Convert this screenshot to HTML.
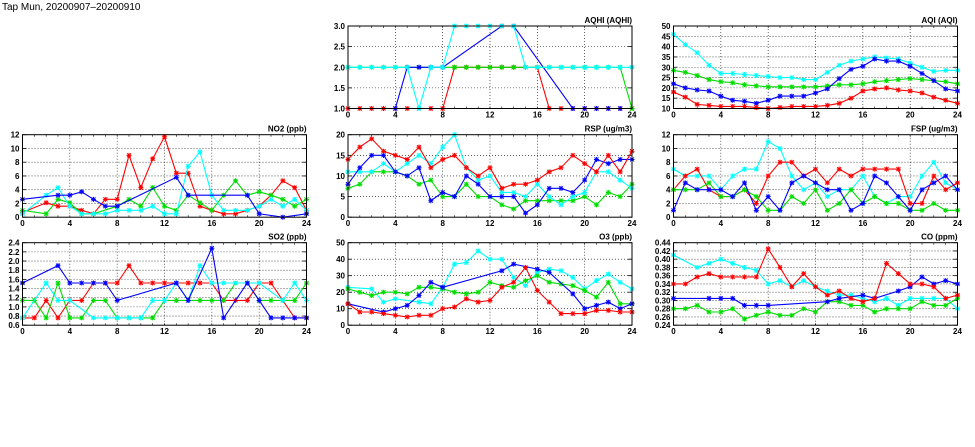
<!DOCTYPE html>
<html><head><meta charset="utf-8"><style>
html,body{margin:0;padding:0;background:#fff;}
svg{display:block;font-family:"Liberation Sans",sans-serif;}
</style></head><body>
<svg id="chart" width="975" height="447" viewBox="0 0 975 447">
<text x="2" y="10" font-size="10">Tap Mun, 20200907–20200910</text>
</svg>
<script>
const hours = [0,1,2,3,4,5,6,7,8,9,10,11,12,13,14,15,16,17,18,19,20,21,22,23,24];
const xTicks = [0,4,8,12,16,20,24];
const seriesNames = ['red','green','cyan','blue'];
const N = null;
// NO2
const no2Red   = [0.7,N,2.1,1.6,1.6,1.0,0.5,2.6,2.6,9.0,4.3,8.5,11.7,6.4,6.4,1.6,1.0,0.5,0.5,1.0,1.6,3.2,5.3,4.3,1.0];
const no2Green = [1.0,N,0.5,2.6,2.1,0.5,0.5,N,1.6,2.6,1.6,4.3,1.6,1.0,3.2,2.1,1.0,3.2,5.3,3.2,3.7,3.2,2.6,1.6,2.6];
const no2Cyan  = [0.5,N,3.2,4.3,1.6,0.5,0.5,0.5,1.0,1.0,1.0,1.6,0.5,0.5,7.4,9.5,3.2,1.0,1.0,1.0,1.6,2.6,1.6,2.6,1.0];
const no2Blue  = [2.6,N,N,3.2,3.2,3.7,2.6,1.6,1.6,N,N,N,N,5.8,3.2,N,N,N,N,3.2,0.5,N,0,N,0.5];
const no2Ticks = [0,2,4,6,8,10,12];
// SO2
const so2Red   = [0.76,0.76,1.14,0.76,1.14,1.14,1.52,1.52,1.52,1.9,1.52,1.52,1.52,1.52,1.52,1.52,1.52,1.14,1.14,1.14,1.52,1.52,1.14,0.76,0.76];
const so2Green = [1.14,1.14,0.76,1.52,0.76,0.76,1.14,1.14,0.76,0.76,0.76,0.76,1.14,1.14,1.14,1.14,1.14,1.14,1.52,1.52,1.14,1.14,1.14,1.14,1.52];
const so2Cyan  = [0.76,N,1.52,1.14,1.14,N,0.76,0.76,0.76,0.76,0.76,1.14,1.14,1.52,1.14,1.9,1.52,1.52,1.52,1.52,1.52,N,1.14,1.52,1.14];
const so2Blue  = [1.52,N,N,1.9,1.52,1.52,1.52,1.52,1.14,N,N,N,N,1.52,1.14,N,2.28,0.76,N,1.52,1.14,0.76,0.76,0.76,0.76];
const so2Ticks = [0.6,0.8,1.0,1.2,1.4,1.6,1.8,2.0,2.2,2.4];
// AQHI
const aqhiRed   = [1,1,1,1,1,1,1,1,1,2,2,2,2,2,2,2,2,1,1,1,1,1,1,1,1];
const aqhiGreen = [2,2,2,2,2,2,2,2,2,2,2,2,2,2,2,2,2,2,2,2,2,2,2,2,1];
const aqhiCyan  = [2,2,2,2,2,2,1,2,2,3,3,3,3,3,3,2,2,2,2,2,2,2,2,2,2];
const aqhiBlue  = [N,N,N,N,1,2,2,2,2,N,N,N,N,3,3,N,N,N,N,1,1,1,1,1,N];
const aqhiTicks = [1.0,1.5,2.0,2.5,3.0];
// AQI
const aqiRed   = [18,15.5,12,11.5,11,11,11,10.5,10,10.5,11,11,11,11.5,12.5,15,18.5,19.5,20,19,18.5,17.5,15.5,14,12.5];
const aqiGreen = [28.5,27.5,26,24,23,22.5,21.5,21,20.5,20.5,20.5,20.5,20.5,21,21.5,21.5,22,23,23.5,24,24.5,24,23.5,23,22];
const aqiCyan  = [46,41,37,31,27,27,26.5,26,25.5,25,25,24,24,27.5,31,33,34,35,34.5,34,32,30,28,28.5,28.5];
const aqiBlue  = [22,20,19,18.5,16,14,13.5,12.5,14,16,16,16,17.5,19.5,24.5,29,30.5,34,33,33,30.5,27,23.5,19.5,18.5];
const aqiTicks = [10,15,20,25,30,35,40,45,50];
// RSP
const rspRed   = [14,17,19,16,15,14,17,12,14,15,12,10,12,7,8,8,9,11,12,15,13,11,15,11,16];
const rspGreen = [7,8,11,11,11,10,8,9,5,5,8,5,5,3,2,4,4,4,4,4,5,3,6,5,8];
const rspCyan  = [11,11,11,13,11,13,15,13,17,20,12,9,10,6,6,5,8,5,3,5,6,11,11,9,7];
const rspBlue  = [8,12,15,15,11,10,12,4,6,5,10,8,5,5,5,1,3,7,7,6,9,14,13,14,14];
const rspTicks = [0,5,10,15,20];
// FSP
const fspRed   = [4,6,7,4,3,3,4,2,6,8,8,6,7,5,7,6,7,7,7,7,2,2,6,4,5];
const fspGreen = [4,4,4,5,3,3,4,3,1,1,3,2,4,1,2,4,2,3,2,2,1,1,2,1,1];
const fspCyan  = [7,6,6,6,4,6,7,7,11,10,6,4,5,3,4,4,6,3,2,3,3,6,8,5,4];
const fspBlue  = [1,5,4,4,4,3,5,1,3,1,5,6,5,4,4,1,2,6,5,3,1,4,5,6,4];
const fspTicks = [0,2,4,6,8,10,12];
// O3
const o3Red   = [13,8,8,7,6,5,6,6,10,11,16,14,15,23,26,35,21,14,7,7,7,9,9,8,8];
const o3Green = [22,20,18,20,20,19,23,23,22,20,19,20,26,24,23,27,30,26,25,24,21,17,26,13,13];
const o3Cyan  = [23,N,22,14,16,N,14,13,23,37,38,45,40,40,29,24,32,34,33,29,22,27,31,26,22];
const o3Blue  = [13,N,N,8,10,12,18,26,23,N,N,N,N,33,37,N,34,32,N,19,10,12,14,10,13];
const o3Ticks = [0,10,20,30,40,50];
// CO
const coRed   = [.34,.34,.357,.365,.357,.357,.357,.357,.425,.38,.333,.365,.333,.313,.323,.305,.297,.305,.39,.365,.34,.34,.333,.305,.313];
const coGreen = [.28,.28,.288,.272,.272,.28,.255,.264,.272,.264,.264,.28,.272,.297,.297,.288,.288,.272,.28,.28,.28,.297,.288,.288,.305];
const coCyan  = [.41,N,.38,.39,.40,.39,.38,.373,.34,.348,.333,.348,.333,.323,.313,.313,.305,.297,.305,.288,.305,.305,.305,.305,.28];
const coBlue  = [.305,N,N,.305,.305,.305,.288,.288,.288,N,N,N,N,.297,.305,N,.313,.305,N,.323,.333,.357,.34,.348,.34];
const coTicks = [0.24,0.26,0.28,0.30,0.32,0.34,0.36,0.38,0.40,0.42,0.44];

const colors = {red:'#ff0000',green:'#00dd00',cyan:'#00ffff',blue:'#0000ff'};
const colX = [22.5,348,673.5], rowY = [26,134.7,242.7], PW = 284, PH = 82.5;
const panels = [
 {name:'no2',title:'NO2 (ppb)',c:0,r:1,ticks:no2Ticks,dec:0,s:{red:no2Red,green:no2Green,cyan:no2Cyan,blue:no2Blue}},
 {name:'so2',title:'SO2 (ppb)',c:0,r:2,ticks:so2Ticks,dec:1,s:{red:so2Red,green:so2Green,cyan:so2Cyan,blue:so2Blue}},
 {name:'aqhi',title:'AQHI (AQHI)',c:1,r:0,ticks:aqhiTicks,dec:1,s:{red:aqhiRed,green:aqhiGreen,blue:aqhiBlue,cyan:aqhiCyan}},
 {name:'rsp',title:'RSP (ug/m3)',c:1,r:1,ticks:rspTicks,dec:0,s:{green:rspGreen,cyan:rspCyan,blue:rspBlue,red:rspRed}},
 {name:'o3',title:'O3 (ppb)',c:1,r:2,ticks:o3Ticks,dec:0,s:{cyan:o3Cyan,green:o3Green,blue:o3Blue,red:o3Red}},
 {name:'aqi',title:'AQI (AQI)',c:2,r:0,ticks:aqiTicks,dec:0,s:{cyan:aqiCyan,green:aqiGreen,blue:aqiBlue,red:aqiRed}},
 {name:'fsp',title:'FSP (ug/m3)',c:2,r:1,ticks:fspTicks,dec:0,s:{cyan:fspCyan,red:fspRed,green:fspGreen,blue:fspBlue}},
 {name:'co',title:'CO (ppm)',c:2,r:2,ticks:coTicks,dec:2,s:{cyan:coCyan,green:coGreen,blue:coBlue,red:coRed}}
];
const svg = document.getElementById('chart');
const NS = 'http://www.w3.org/2000/svg';
function mk(tag, attrs, parent){const e=document.createElementNS(NS,tag);for(const k in attrs)e.setAttribute(k,attrs[k]);parent.appendChild(e);return e;}

panels.forEach(p=>{
  const x0=colX[p.c], y0=rowY[p.r];
  const lo=p.ticks[0], hi=p.ticks[p.ticks.length-1];
  const xs=h=>x0+h/24*PW;
  const ys=v=>y0+PH-(v-lo)/(hi-lo)*PH;
  const g=mk('g',{},svg);
  
  
  mk('rect',{x:x0,y:y0,width:PW,height:PH,fill:'#fff'},g);
  // grid
  p.ticks.forEach((t,i)=>{
    const y=ys(t);
    if(i>0&&i<p.ticks.length-1){
      const l=mk('line',{x1:x0,x2:x0+PW,y1:y,y2:y,stroke:'#000','stroke-width':0.6,'stroke-dasharray':'1,2'},g);
      
      
    }
    mk('line',{x1:x0,x2:x0+4,y1:y,y2:y,stroke:'#000','stroke-width':0.8},g);
    mk('line',{x1:x0+PW-4,x2:x0+PW,y1:y,y2:y,stroke:'#000','stroke-width':0.8},g);
    const tx=mk('text',{x:x0-3,y:y+3,'font-size':8,'font-weight':'bold','text-anchor':'end'},g);
    tx.textContent=t.toFixed(p.dec);
    
    
  });
  xTicks.forEach((t,i)=>{
    const x=xs(t);
    if(i>0&&i<xTicks.length-1){
      const l=mk('line',{x1:x,x2:x,y1:y0,y2:y0+PH,stroke:'#000','stroke-width':0.6,'stroke-dasharray':'1,2'},g);
      
      
    }
    const tx=mk('text',{x:x,y:y0+PH+9,'font-size':8,'font-weight':'bold','text-anchor':'middle'},g);
    tx.textContent=t;
    
    
  });
  hours.forEach(h=>{
    const x=xs(h);
    mk('line',{x1:x,x2:x,y1:y0+PH,y2:y0+PH-2,stroke:'#000','stroke-width':0.6},g);
    mk('line',{x1:x,x2:x,y1:y0,y2:y0+2,stroke:'#000','stroke-width':0.6},g);
  });
  const ttl=mk('text',{x:x0+PW,y:y0-3,'font-size':8,'font-weight':'bold','text-anchor':'end'},g);
  ttl.textContent=p.title;
  
  
  // series
  Object.keys(p.s).forEach(k=>{
    const vals=p.s[k], col=colors[k];
    const pts=[];
    vals.forEach((v,i)=>{ if(v!==null) pts.push([xs(hours[i]),ys(v)]); });
    const pl=mk('polyline',{points:pts.map(q=>q[0].toFixed(1)+','+q[1].toFixed(1)).join(' '),fill:'none',stroke:col,'stroke-width':1.1},g);
    
    
    pts.forEach(q=>{
      const m=mk('path',{d:`M${q[0]-2.5},${q[1]}h5M${q[0]},${q[1]-2.5}v5M${q[0]-2},${q[1]-2}l4,4M${q[0]-2},${q[1]+2}l4,-4`,stroke:col,'stroke-width':1},g);
      
      
    });
  });
  mk('rect',{x:x0,y:y0,width:PW,height:PH,fill:'none',stroke:'#000','stroke-width':1},g);
});
</script>
</body></html>
